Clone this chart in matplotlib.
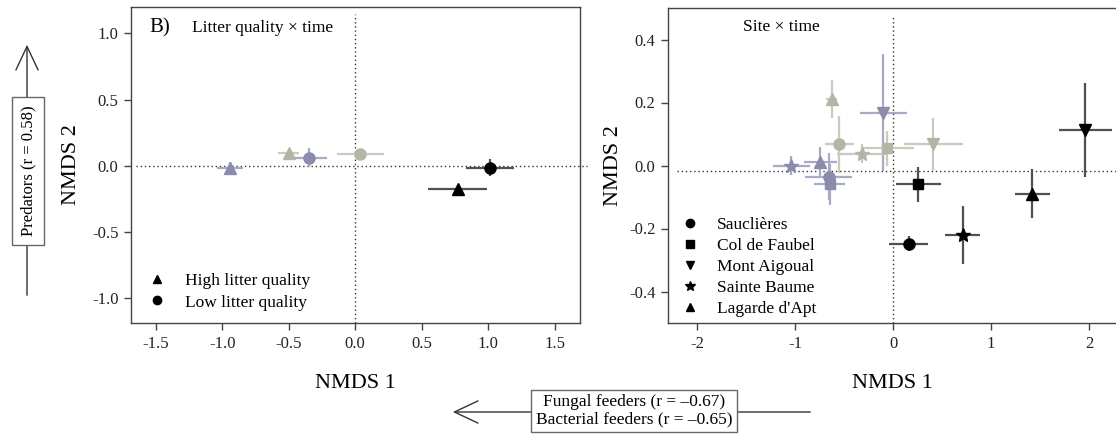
import matplotlib
matplotlib.use("Agg")
import matplotlib.pyplot as plt
from matplotlib.lines import Line2D
from matplotlib.patches import FancyArrowPatch

plt.rcParams['font.family'] = ['Liberation Serif', 'DejaVu Serif']
plt.rcParams['axes.unicode_minus'] = False

# colours for the three sampling times
time_colors = ['#8b8bac', '#b3b6a6', '#000000']
err_colors = ['#a9a9c8', '#c8cbbd', '#505050']

# panel B: litter quality x time
litter_labels = ['High litter quality', 'Low litter quality']
litter_markers = ['^', 'o']
# [time][litter]
litter_x = [[-0.94, -0.35], [-0.50, 0.04], [0.77, 1.015]]
litter_y = [[-0.015, 0.06], [0.098, 0.09], [-0.175, -0.015]]
litter_xerr = [[0.095, 0.14], [0.08, 0.18], [0.22, 0.18]]
litter_yerr = [[0.045, 0.07], [0.02, 0.02], [0.03, 0.065]]

# site x time
site_labels = ['Sauclières', 'Col de Faubel', 'Mont Aigoual', 'Sainte Baume', "Lagarde d'Apt"]
site_markers = ['o', 's', 'v', '*', '^']
# [time][site]
site_x = [[-0.66, -0.65, -0.10, -1.04, -0.745],
          [-0.55, -0.06, 0.41, -0.32, -0.63],
          [0.16, 0.255, 1.96, 0.71, 1.42]]
site_y = [[-0.035, -0.06, 0.168, 0.0, 0.01],
          [0.067, 0.055, 0.067, 0.037, 0.21],
          [-0.248, -0.06, 0.113, -0.222, -0.09]]
site_xerr = [[0.24, 0.16, 0.24, 0.19, 0.17],
             [0.15, 0.27, 0.30, 0.25, 0.06],
             [0.20, 0.23, 0.27, 0.18, 0.18]]
site_yerr = [[0.075, 0.065, 0.185, 0.03, 0.05],
             [0.09, 0.055, 0.085, 0.03, 0.06],
             [0.025, 0.055, 0.15, 0.092, 0.078]]

marker_size = {'o': 8, 's': 7, 'v': 8, '^': 8, '*': 10}

W, H = 1116, 438


def style_axes(ax):
    for s in ax.spines.values():
        s.set_color('#444444')
        s.set_linewidth(1.0)
    ax.tick_params(direction='out', length=5, width=1, color='#444444',
                   labelsize=12, labelcolor='#222222', pad=4)


def draw_points(ax, xs, ys, xe, ye, markers):
    for t in range(len(xs)):
        for i in range(len(xs[t])):
            m = markers[i]
            ax.errorbar(xs[t][i], ys[t][i], xerr=xe[t][i], yerr=ye[t][i],
                        fmt=m, color=time_colors[t], ecolor=err_colors[t],
                        elinewidth=1.6, capsize=0, ms=marker_size[m],
                        mec=time_colors[t], zorder=3 + t)


def main():
    fig = plt.figure(figsize=(W / 100, H / 100), dpi=100)

    # left panel
    ax1 = fig.add_axes([131 / W, (H - 323) / H, (580 - 131) / W, (323 - 7) / H])
    style_axes(ax1)
    ax1.set_xlim(-1.685, 1.69)
    ax1.set_ylim(-1.19, 1.2)
    ax1.set_xticks([-1.5, -1.0, -0.5, 0.0, 0.5, 1.0, 1.5])
    ax1.set_xticklabels(['-1.5', '-1.0', '-0.5', '0.0', '0.5', '1.0', '1.5'])
    ax1.set_yticks([-1.0, -0.5, 0.0, 0.5, 1.0])
    ax1.set_yticklabels(['-1.0', '-0.5', '0.0', '0.5', '1.0'])
    ax1.plot([-1.65, 1.74], [0, 0], ls=(0, (1, 2)), color='#333333', lw=1, clip_on=False, zorder=1)
    ax1.plot([0, 0], [-1.19, 1.15], ls=(0, (1, 2)), color='#333333', lw=1, zorder=1)
    draw_points(ax1, litter_x, litter_y, litter_xerr, litter_yerr, litter_markers)
    ax1.text(0.042, 0.935, 'B)', transform=ax1.transAxes, fontsize=15, va='center')
    ax1.text(0.136, 0.935, 'Litter quality \u00d7 time', transform=ax1.transAxes, fontsize=12.5, va='center')
    ax1.set_xlabel('NMDS 1', fontsize=16, labelpad=16)
    ax1.set_ylabel('NMDS 2', fontsize=16, labelpad=8)
    handles = [Line2D([], [], ls='', marker=m, color='black', ms=6) for m in litter_markers]
    ax1.legend(handles, litter_labels, loc='lower left', bbox_to_anchor=(0.0, -0.01),
               frameon=False, fontsize=12.5, handletextpad=1.0, labelspacing=0.3,
               handlelength=1.2, borderaxespad=0.5)

    # right panel
    ax2 = fig.add_axes([668 / W, (H - 323) / H, (W - 668) / W, (323 - 8) / H])
    style_axes(ax2)
    ax2.spines['right'].set_visible(False)
    ax2.set_xlim(-2.30, 2.275)
    ax2.set_ylim(-0.5, 0.5)
    ax2.set_xticks([-2, -1, 0, 1, 2])
    ax2.set_yticks([-0.4, -0.2, 0.0, 0.2, 0.4])
    ax2.set_yticklabels(['-0.4', '-0.2', '0.0', '0.2', '0.4'])
    ax2.axhline(-0.016, xmin=0.02, ls=(0, (1, 2)), color='#333333', lw=1, zorder=1)
    ax2.plot([0, 0], [-0.5, 0.475], ls=(0, (1, 2)), color='#333333', lw=1, zorder=1)
    draw_points(ax2, site_x, site_y, site_xerr, site_yerr, site_markers)
    ax2.text(0.167, 0.94, 'Site \u00d7 time', transform=ax2.transAxes, fontsize=12.5, va='center')
    ax2.set_xlabel('NMDS 1', fontsize=16, labelpad=16)
    ax2.set_ylabel('NMDS 2', fontsize=16, labelpad=4)
    handles = [Line2D([], [], ls='', marker=m, color='black', ms=7 if m == '*' else 6) for m in site_markers]
    ax2.legend(handles, site_labels, loc='lower left', bbox_to_anchor=(-0.01, -0.03),
               frameon=False, fontsize=12.5, handletextpad=1.0, labelspacing=0.27,
               handlelength=1.2, borderaxespad=0.5)

    # vector arrows (figure pixel coords)
    def fx(x):
        return x / W

    def fy(y):
        return 1 - y / H

    arrow_style = '->,head_length=1.7,head_width=0.8'
    fig.add_artist(FancyArrowPatch((fx(27), fy(298)), (fx(27), fy(42)), transform=fig.transFigure,
                                   arrowstyle=arrow_style, mutation_scale=10, color='#333333', lw=1))
    fig.text(fx(28), fy(171), 'Predators (r = 0.58)', rotation=90, ha='center', va='center',
             fontsize=12, bbox=dict(boxstyle='square,pad=0.5', fc='white', ec='#666666', lw=1))

    fig.add_artist(FancyArrowPatch((fx(813), fy(412)), (fx(450), fy(412)), transform=fig.transFigure,
                                   arrowstyle=arrow_style, mutation_scale=10, color='#333333', lw=1))
    fig.text(fx(634), fy(411), 'Fungal feeders (r = \u20130.67)\nBacterial feeders (r = \u20130.65)',
             ha='center', va='center', fontsize=12.5, linespacing=1.1,
             bbox=dict(boxstyle='square,pad=0.25', fc='white', ec='#666666', lw=1))

    fig.savefig('out.png', dpi=100)


if __name__ == "__main__":
    main()
